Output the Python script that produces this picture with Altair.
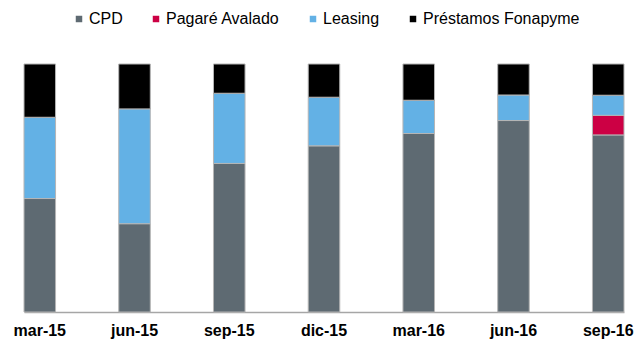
import altair as alt
import pandas as pd

periods = ["mar-15", "jun-15", "sep-15", "dic-15", "mar-16", "jun-16", "sep-16"]
series = ["CPD", "Pagaré Avalado", "Leasing", "Préstamos Fonapyme"]
cpd = [45.8, 35.6, 59.9, 67.0, 71.9, 77.2, 71.4]
pagare = [0, 0, 0, 0, 0, 0, 7.9]
leasing = [32.8, 46.3, 28.3, 19.6, 13.4, 10.3, 8.1]
fonapyme = [21.5, 18.1, 11.8, 13.4, 14.6, 12.5, 12.6]
colors = ["#5E6A72", "#CC0044", "#63B1E5", "#000000"]

rows = []
for i, p in enumerate(periods):
    for j, (s, vals) in enumerate(zip(series, [cpd, pagare, leasing, fonapyme])):
        if vals[i] > 0:
            rows.append({"period": p, "series": s, "value": vals[i], "idx": j})
df = pd.DataFrame(rows)

chart = alt.Chart(df).mark_bar(stroke="#B5B5B5", strokeWidth=1).encode(
    x=alt.X("period:N", sort=periods,
            scale=alt.Scale(paddingInner=0.667, paddingOuter=0),
            axis=alt.Axis(title=None, labelAngle=0, ticks=False,
                          domainColor="#A6A6A6", domainWidth=1.5,
                          labelFont="Liberation Sans", labelFontWeight="bold",
                          labelFontSize=16, labelColor="#000000",
                          labelPadding=10)),
    y=alt.Y("value:Q", stack="normalize", axis=None),
    color=alt.Color("series:N",
                    scale=alt.Scale(domain=series, range=colors),
                    legend=alt.Legend(title=None, orient="none", direction="horizontal",
                                      legendX=47, legendY=-53,
                                      symbolType="square", symbolSize=42,
                                      symbolStrokeWidth=0,
                                      labelFont="Liberation Sans", labelFontSize=16,
                                      labelColor="#000000", columnPadding=25,
                                      labelOffset=2, padding=0)),
    order=alt.Order("idx:Q", sort="ascending"),
).properties(
    width=600, height=248,
    padding={"left": 24, "top": 64, "right": 18, "bottom": 27},
    autosize="none",
).configure_view(stroke=None)

chart.save("out.html", embed_options={"renderer": "svg", "actions": False})
